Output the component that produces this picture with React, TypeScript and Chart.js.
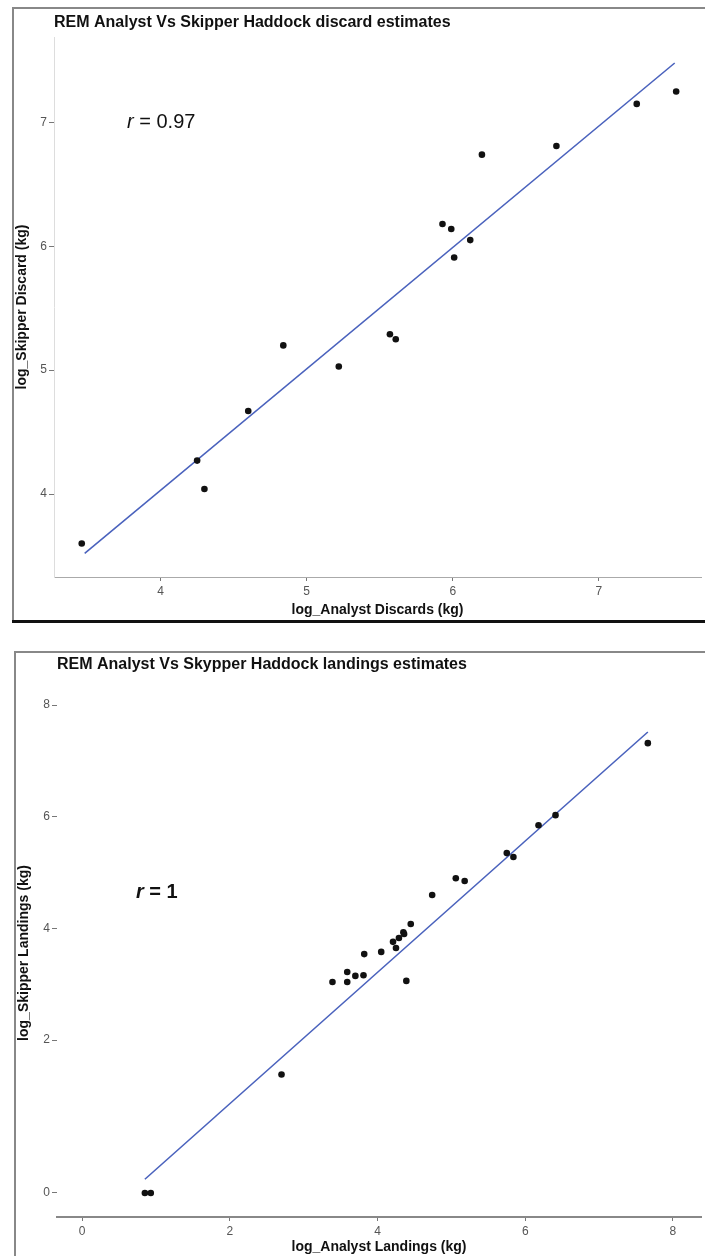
import React, { useEffect, useRef } from "react";
import { Chart, registerables, LinearScale } from "chart.js";

// ---------- Data: discards panel ----------
const discardAnalyst = [3.46, 4.25, 4.30, 4.60, 4.84, 5.22, 5.57, 5.61, 5.93, 5.99, 6.01, 6.12, 6.20, 6.71, 7.26, 7.53];
const discardSkipper = [3.60, 4.27, 4.04, 4.67, 5.20, 5.03, 5.29, 5.25, 6.18, 6.14, 5.91, 6.05, 6.74, 6.81, 7.15, 7.25];
const discardFitX = [3.48, 7.52];
const discardFitY = [3.52, 7.48];
const discardTitle = "REM Analyst Vs Skipper Haddock discard estimates";
const discardXLabel = "log_Analyst Discards (kg)";
const discardYLabel = "log_Skipper Discard (kg)";
const discardR = "0.97";

// ---------- Data: landings panel ----------
const landingsAnalyst = [0.85, 0.93, 2.70, 3.39, 3.59, 3.59, 3.70, 3.81, 3.82, 4.05, 4.21, 4.25, 4.29, 4.35, 4.36, 4.45, 4.39, 4.74, 5.06, 5.18, 5.75, 5.84, 6.18, 6.41, 7.66];
const landingsSkipper = [0.00, 0.00, 1.55, 3.04, 3.22, 3.04, 3.15, 3.16, 3.54, 3.58, 3.76, 3.65, 3.83, 3.93, 3.90, 4.08, 3.06, 4.60, 4.90, 4.85, 5.35, 5.28, 5.85, 6.03, 7.32];
const landingsFitX = [0.85, 7.66];
const landingsFitY = [0.18, 7.52];
const landingsTitle = "REM Analyst Vs Skypper Haddock landings estimates";
const landingsXLabel = "log_Analyst Landings (kg)";
const landingsYLabel = "log_Skipper Landings (kg)";
const landingsR = "1";

// The landings y axis in the reference draws the 0–2 interval taller than the others.
class StretchScale extends LinearScale {
  static id = "stretch";
  static defaults = LinearScale.defaults;
  _u(v: number) {
    const o: any = (this as any).options;
    const k = o.stretchFactor ?? 1;
    const b = o.stretchBreak ?? 0;
    return v < b ? v * k : v + b * (k - 1);
  }
  _inv(u: number) {
    const o: any = (this as any).options;
    const k = o.stretchFactor ?? 1;
    const b = o.stretchBreak ?? 0;
    return u < b * k ? u / k : u - b * (k - 1);
  }
  getPixelForValue(value: number) {
    if (value === null || value === undefined || isNaN(value)) return NaN;
    const s: any = this;
    const u0 = this._u(s.min), u1 = this._u(s.max);
    return s.getPixelForDecimal((this._u(value) - u0) / (u1 - u0));
  }
  getValueForPixel(pixel: number) {
    const s: any = this;
    const u0 = this._u(s.min), u1 = this._u(s.max);
    return this._inv(u0 + s.getDecimalForPixel(pixel) * (u1 - u0));
  }
}

Chart.register(...registerables, StretchScale as any);

const FONT = '"Liberation Sans", Arial, Helvetica, sans-serif';

type PanelProps = {
  xs: number[];
  ys: number[];
  fitX: number[];
  fitY: number[];
  title: string;
  xLabel: string;
  yLabel: string;
  rText: string;
  rBold: boolean;
  rPos: [number, number];
  xMin: number; xMax: number; yMin: number; yMax: number;
  step: number;
  yStretch?: { factor: number; brk: number };
  width: number; height: number;
  padLeft: number; padTop: number; padBottom: number;
  yAxisW: number; xAxisH: number;
  titlePadTop: number; titlePadBottom: number;
  xTitlePadBottom: number;
  xBorder: { color: string; width: number };
  yBorder: { display: boolean; color: string; width: number };
};

function Panel(p: PanelProps) {
  const ref = useRef<HTMLCanvasElement | null>(null);
  useEffect(() => {
    if (!ref.current) return;
    const rPlugin = {
      id: "rLabel",
      afterDatasetsDraw(chart: any) {
        const { ctx, scales } = chart;
        const px = scales.x.getPixelForValue(p.rPos[0]);
        const py = scales.y.getPixelForValue(p.rPos[1]);
        ctx.save();
        ctx.fillStyle = "#111";
        ctx.textBaseline = "middle";
        ctx.textAlign = "left";
        const w = p.rBold ? "bold " : "";
        ctx.font = `italic ${w}20px ${FONT}`;
        ctx.fillText("r", px, py);
        const rw = ctx.measureText("r").width;
        ctx.font = `${w}20px ${FONT}`;
        ctx.fillText(" = " + p.rText, px + rw, py);
        ctx.restore();
      },
    };
    const yScale: any = {
      type: p.yStretch ? "stretch" : "linear",
      min: p.yMin,
      max: p.yMax,
      afterFit: (s: any) => { s.width = p.yAxisW; },
      grid: { display: true, drawOnChartArea: false, drawTicks: true, tickLength: 5, color: "#777", lineWidth: 1 },
      border: { display: p.yBorder.display, color: p.yBorder.color, width: p.yBorder.width },
      ticks: { stepSize: p.step, includeBounds: false, padding: 2, color: "#555", font: { family: FONT, size: 12 } },
      title: {
        display: true,
        text: p.yLabel,
        color: "#111",
        font: { family: FONT, size: 14, weight: "bold", lineHeight: 1.2 },
        padding: { top: 0, bottom: 0 },
      },
    };
    if (p.yStretch) {
      yScale.stretchFactor = p.yStretch.factor;
      yScale.stretchBreak = p.yStretch.brk;
    }
    const chart = new Chart(ref.current, {
      type: "scatter",
      data: {
        datasets: [
          {
            label: "fit",
            type: "line",
            data: p.fitX.map((x, i) => ({ x, y: p.fitY[i] })),
            borderColor: "#4a62bd",
            borderWidth: 1.6,
            pointRadius: 0,
            fill: false,
            order: 2,
          } as any,
          {
            label: "points",
            data: p.xs.map((x, i) => ({ x, y: p.ys[i] })),
            backgroundColor: "#111",
            borderColor: "#111",
            pointRadius: 3.3,
            pointBorderWidth: 0,
            order: 1,
          },
        ],
      },
      options: {
        animation: false,
        responsive: false,
        maintainAspectRatio: false,
        layout: { padding: { left: p.padLeft, right: 0, top: p.padTop, bottom: p.padBottom } },
        plugins: {
          legend: { display: false },
          tooltip: { enabled: false },
          title: {
            display: true,
            text: p.title,
            align: "start",
            fullSize: false,
            color: "#111",
            font: { family: FONT, size: 16, weight: "bold", lineHeight: 1.2 },
            padding: { top: p.titlePadTop, bottom: p.titlePadBottom },
          },
        },
        scales: {
          x: {
            type: "linear",
            min: p.xMin,
            max: p.xMax,
            afterFit: (s: any) => { s.height = p.xAxisH; },
            grid: { display: true, drawOnChartArea: false, drawTicks: true, tickLength: 4, color: "#777", lineWidth: 1 },
            border: { display: true, color: p.xBorder.color, width: p.xBorder.width },
            ticks: { stepSize: p.step, includeBounds: false, padding: 3, color: "#555", font: { family: FONT, size: 12 }, maxRotation: 0 },
            title: {
              display: true,
              text: p.xLabel,
              color: "#111",
              font: { family: FONT, size: 14, weight: "bold", lineHeight: 1.2 },
              padding: { top: 0, bottom: p.xTitlePadBottom },
            },
          },
          y: yScale,
        },
      },
      plugins: [rPlugin],
    } as any);
    return () => chart.destroy();
  }, []);
  return <canvas ref={ref} width={p.width} height={p.height} style={{ display: "block", width: p.width, height: p.height }} />;
}

export default function App() {
  return (
    <div style={{ position: "absolute", left: 0, top: 0, width: 705, height: 1256, background: "#fff", overflow: "hidden" }}>
      {/* Top panel */}
      <div style={{ position: "absolute", left: 0, top: 0 }}>
        <Panel
          xs={discardAnalyst} ys={discardSkipper} fitX={discardFitX} fitY={discardFitY}
          title={discardTitle} xLabel={discardXLabel} yLabel={discardYLabel}
          rText={discardR} rBold={false} rPos={[3.77, 7.0]}
          xMin={3.27} xMax={7.70} yMin={3.33} yMax={7.69} step={1}
          width={705} height={622}
          padLeft={14} padTop={8} padBottom={2}
          yAxisW={40} xAxisH={43}
          titlePadTop={5.4} titlePadBottom={4.4}
          xTitlePadBottom={1.6}
          xBorder={{ color: "#aaa", width: 1 }}
          yBorder={{ display: true, color: "#ddd", width: 1 }}
        />
      </div>
      <div style={{ position: "absolute", left: 12, top: 7, width: 2, height: 615, background: "#888" }} />
      <div style={{ position: "absolute", left: 12, top: 7, width: 693, height: 2, background: "#888" }} />
      <div style={{ position: "absolute", left: 12, top: 620, width: 693, height: 3, background: "#111" }} />

      {/* Bottom panel */}
      <div style={{ position: "absolute", left: 0, top: 652 }}>
        <Panel
          xs={landingsAnalyst} ys={landingsSkipper} fitX={landingsFitX} fitY={landingsFitY}
          title={landingsTitle} xLabel={landingsXLabel} yLabel={landingsYLabel}
          rText={landingsR} rBold={true} rPos={[0.73, 4.65]}
          xMin={-0.34} xMax={8.38} yMin={-0.314} yMax={8.29} step={2}
          yStretch={{ factor: 1.37, brk: 2 }}
          width={705} height={604}
          padLeft={16} padTop={2} padBottom={0}
          yAxisW={41} xAxisH={39}
          titlePadTop={1.4} titlePadBottom={14.4}
          xTitlePadBottom={0}
          xBorder={{ color: "#888", width: 2 }}
          yBorder={{ display: false, color: "#ddd", width: 1 }}
        />
      </div>
      <div style={{ position: "absolute", left: 14, top: 651, width: 2, height: 605, background: "#888" }} />
      <div style={{ position: "absolute", left: 14, top: 651, width: 691, height: 2, background: "#888" }} />
    </div>
  );
}
